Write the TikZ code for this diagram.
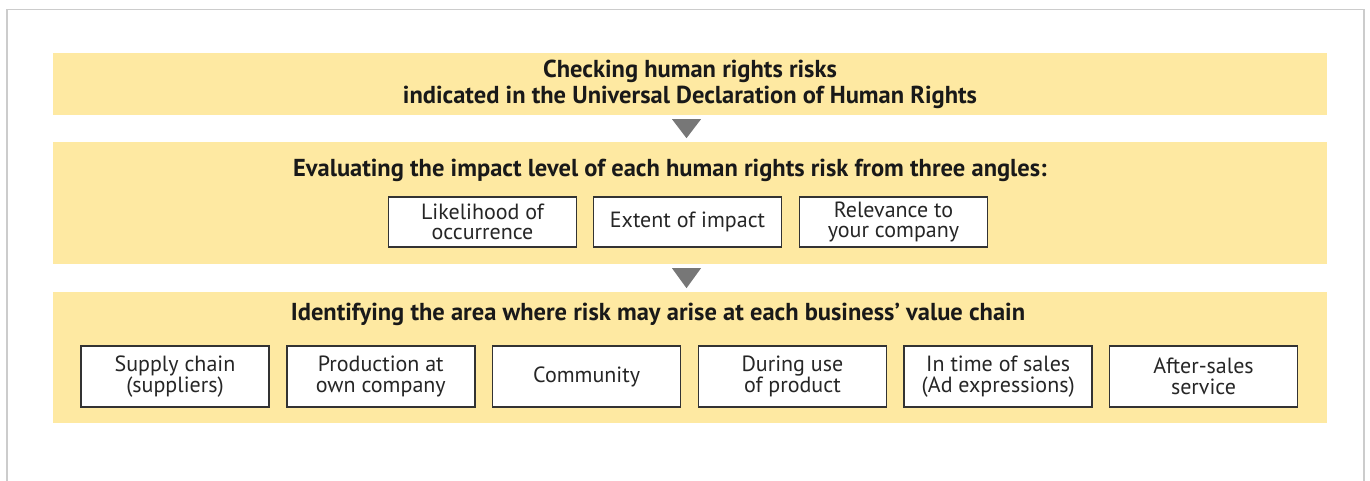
\documentclass[tikz,border=0pt]{standalone}
\usepackage{fontspec}
\setmainfont{PT Sans}
\definecolor{bandyellow}{HTML}{FEE9A2}
\definecolor{boxline}{HTML}{333333}
\definecolor{arrowgray}{HTML}{777777}
\definecolor{framegray}{HTML}{CCCCCC}
\usetikzlibrary{calc}
\begin{document}
\begin{tikzpicture}[x=1pt,y=-1pt,
  band/.style={fill=bandyellow, draw=none, minimum width=1274pt, inner sep=0pt},
  bandtitle/.style={font=\bfseries\fontsize{24.5}{26}\selectfont, align=center, inner sep=0pt, text=black!90},
  itembox/.style={draw=boxline, line width=1.5pt, fill=white, minimum width=188pt, align=center, inner sep=0pt, font=\fontsize{22}{20.5}\selectfont, text=black!85},
  stepmark/.style={fill=arrowgray, draw=none}]
\useasboundingbox (0,0) rectangle (1370,481);
\clip (0,0) rectangle (1370,481);
\draw[framegray, line width=1.2pt] (7,500) -- (7,9.5) -- (1364,9.5) -- (1364,500);
% bands
\node[band, minimum height=62pt] (b1) at (690,84) {};
\node[band, minimum height=122pt] (b2) at (690,203) {};
\node[band, minimum height=131pt] (b3) at (690,357.5) {};
% titles
\node[bandtitle] (t1) at (690,84) {Checking human rights risks\\indicated in the Universal Declaration of Human Rights};
\node[bandtitle] (t2) at (670,170) {Evaluating the impact level of each human rights risk from three angles:};
\node[bandtitle] (t3) at (658,314) {Identifying the area where risk may arise at each business’ value chain};
% arrows
\fill[stepmark] ($(b1.south)+(-18,4)$) -- ($(b1.south)+(11,4)$) -- ($(b1.south)+(-3.5,23)$) -- cycle;
\fill[stepmark] ($(b2.south)+(-18,4)$) -- ($(b2.south)+(11,4)$) -- ($(b2.south)+(-3.5,24)$) -- cycle;
% middle boxes
\node[itembox, minimum height=50pt] (m1) at (482.5,222) {Likelihood of\\occurrence};
\node[itembox, minimum height=50pt] (m2) at (687.5,222) {Extent of impact};
\node[itembox, minimum height=50pt] (m3) at (893.5,222) {Relevance to\\your company};
% bottom boxes
\node[itembox, minimum height=61pt] (v1) at (175,376.5) {Supply chain\\(suppliers)};
\node[itembox, minimum height=61pt] (v2) at (380.8,376.5) {Production at\\own company};
\node[itembox, minimum height=61pt] (v3) at (586.6,376.5) {Community};
\node[itembox, minimum height=61pt] (v4) at (792.4,376.5) {During use\\of product};
\node[itembox, minimum height=61pt] (v5) at (998.2,376.5) {In time of sales\\(Ad expressions)};
\node[itembox, minimum height=61pt] (v6) at (1203.5,376.5) {After-sales\\service};
\end{tikzpicture}
\end{document}
